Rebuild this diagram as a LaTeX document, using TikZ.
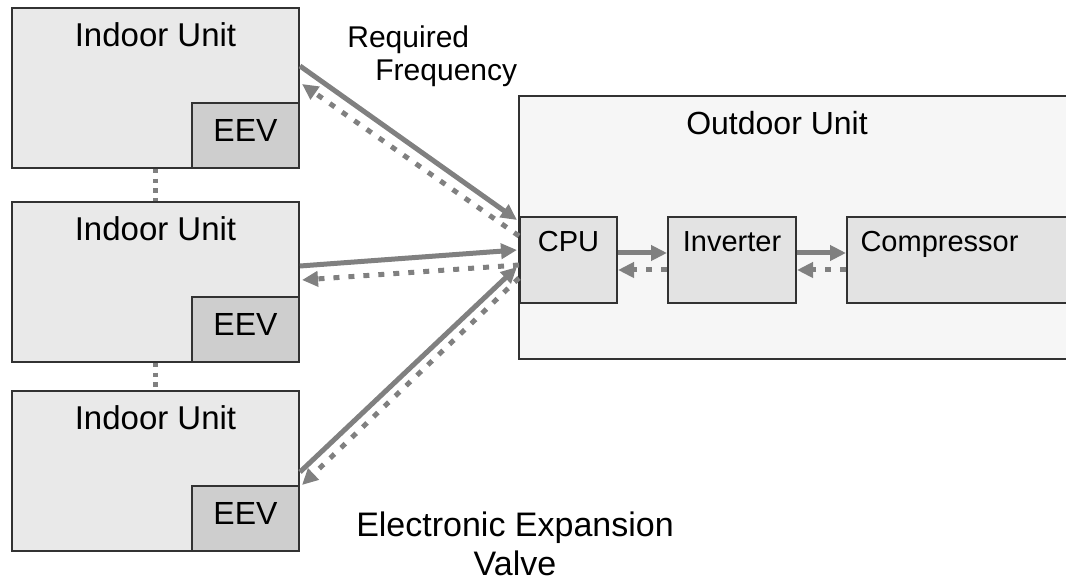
\documentclass[tikz,border=0pt]{standalone}
\usepackage{fontspec}
\setmainfont{Liberation Sans}
\usetikzlibrary{arrows.meta, positioning, calc}
\definecolor{edge}{RGB}{50,50,50}
\definecolor{indoorbg}{RGB}{233,233,233}
\definecolor{eevbg}{RGB}{206,206,206}
\definecolor{outdoorbg}{RGB}{246,246,246}
\definecolor{partbg}{RGB}{227,227,227}
\definecolor{flow}{RGB}{128,128,128}

\begin{document}
\begin{tikzpicture}[
    x=0.5pt, y=-0.5pt,
    unitbox/.style={rectangle, draw=edge, line width=1pt, fill=indoorbg,
                    minimum width=143.5pt, minimum height=80pt, inner sep=0pt},
    eevbox/.style={rectangle, draw=edge, line width=1pt, fill=eevbg,
                   minimum width=53.5pt, minimum height=32.5pt, inner sep=0pt,
                   text depth=5.5pt, font=\fontsize{16}{19}\selectfont},
    partbox/.style={rectangle, draw=edge, line width=1pt, fill=partbg,
                    minimum height=43pt, inner sep=0pt},
    unitlbl/.style={anchor=base, inner sep=0pt, font=\fontsize{16.5}{19}\selectfont},
    partlbl/.style={anchor=base, inner sep=0pt, font=\fontsize{14.5}{17}\selectfont},
    note/.style={inner sep=0pt, font=\fontsize{15}{16.5}\selectfont},
    reqline/.style={-{Triangle[length=8pt, width=7.5pt]}, draw=flow, line width=2.5pt},
    fbline/.style={reqline, dash pattern=on 3pt off 4.5pt},
    linkdots/.style={draw=flow, line width=2.2pt, dash pattern=on 2.2pt off 2.6pt},
]

\clip (0,0) rectangle (1066,582);

% ===== Indoor units =====
\node[unitbox, anchor=north west] (iu1) at (11,7) {};
\node[unitbox, below=16pt of iu1] (iu2) {};
\node[unitbox, below=13.5pt of iu2] (iu3) {};

\foreach \u in {iu1, iu2, iu3}{
  \node[eevbox, anchor=south east] (\u eev) at (\u.south east) {EEV};
  \node[unitlbl] (\u lbl) at ($(\u.north)+(0,40)$) {Indoor Unit};
}

% dotted links between the indoor units
\draw[linkdots] (iu1.south) -- (iu2.north);
\draw[linkdots] (iu2.south) -- (iu3.north);

% ===== Outdoor unit =====
\node[rectangle, draw=edge, line width=1pt, fill=outdoorbg, anchor=north west,
      minimum width=290pt, minimum height=131.5pt] (odu) at (518,95) {};
\node[unitlbl, font=\fontsize{16}{19}\selectfont] (odulbl) at (777,135) {Outdoor Unit};

\node[partbox, minimum width=48.5pt] (cpu) at (568.5,260) {};
\node[partbox, minimum width=64pt, right=24.5pt of cpu] (inv) {};
\node[partbox, minimum width=120pt, right=24.5pt of inv] (comp) {};

\node[partlbl] (cpulbl) at ($(cpu.north)+(0,36)$) {CPU};
\node[partlbl] (invlbl) at ($(inv.north)+(0,36)$) {Inverter};
\node[partlbl] (complbl) at ($(comp.north west)+(93.5,36)$) {Compressor};

% chain inside the outdoor unit
\draw[reqline] ($(cpu.east)+(0,-7)$) -- ($(inv.west)+(0,-7)$);
\draw[fbline] ($(inv.west)+(0,10)$) -- ($(cpu.east)+(0,10)$);
\draw[reqline] ($(inv.east)+(0,-7)$) -- ($(comp.west)+(0,-7)$);
\draw[fbline] ($(comp.west)+(0,10)$) -- ($(inv.east)+(0,10)$);

% ===== Indoor <-> CPU =====
\draw[reqline] ($(iu1.east)+(0,-22)$) -- ($(cpu.west)+(-2,-40)$);
\draw[fbline] ($(cpu.west)+(0,-24)$) -- ($(iu1.east)+(2,-4)$);
\draw[reqline] ($(iu2.east)+(0,-16)$) -- ($(cpu.west)+(-2,-10)$);
\draw[fbline] ($(cpu.west)+(0,5)$) -- ($(iu2.east)+(2,-2)$);
\draw[reqline] ($(iu3.east)+(0,1)$) -- ($(cpu.west)+(-2,7)$);
\draw[fbline] ($(cpu.west)+(0,18)$) -- ($(iu3.east)+(2,14)$);

% ===== Notes =====
\node[note, anchor=north west, align=left] (freq) at (347,25)
  {Required\\\hspace*{14pt}Frequency};
\node[note, anchor=north, align=center, font=\fontsize{17}{19.5}\selectfont] (eevnote) at (515,511)
  {Electronic Expansion\\Valve};

\end{tikzpicture}
\end{document}
